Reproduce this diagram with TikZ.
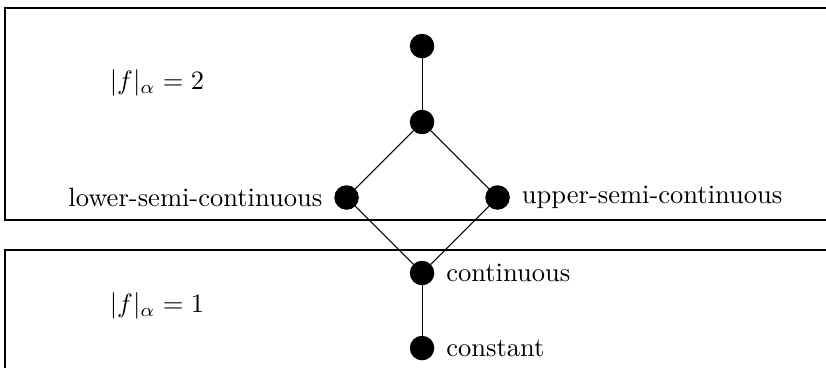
\documentclass[tikz,border=0pt]{standalone}
\begin{document}
\begin{tikzpicture}[x=1cm,y=1cm,
  dot/.style={circle,fill=black,draw=black,inner sep=0pt,minimum size=0.31cm},
  region/.style={draw=black,line width=0.5pt},
  edge/.style={draw=black,line width=0.4pt}]
\useasboundingbox (0,0) rectangle (10.94,-4.874);
\clip (0,0) rectangle (10.94,-4.874);
\draw[region] (0.066,-0.106) rectangle (11.2,-2.914);
\draw[region] (0.066,-3.31) rectangle (11.2,-5.2);
\node (la) at (2.08,-1.10) {$|f|_\alpha = 2$};
\node (lb) at (2.08,-4.05) {$|f|_\alpha = 1$};
\node[dot] (top) at (5.59,-0.61) {};
\node[dot] (mid) at (5.59,-1.616) {};
\node[dot,label={[label distance=1pt]left:lower-semi-continuous}] (lsc) at (4.59,-2.616) {};
\node[dot,label={[label distance=1pt]right:upper-semi-continuous}] (usc) at (6.59,-2.616) {};
\node[dot,label={[label distance=1pt]right:continuous}] (cont) at (5.59,-3.616) {};
\node[dot,label={[label distance=1pt]right:constant}] (const) at (5.59,-4.61) {};
\draw[edge] (top) -- (mid);
\draw[edge] (mid) -- (lsc);
\draw[edge] (mid) -- (usc);
\draw[edge] (lsc) -- (cont);
\draw[edge] (usc) -- (cont);
\draw[edge] (cont) -- (const);
\end{tikzpicture}
\end{document}
